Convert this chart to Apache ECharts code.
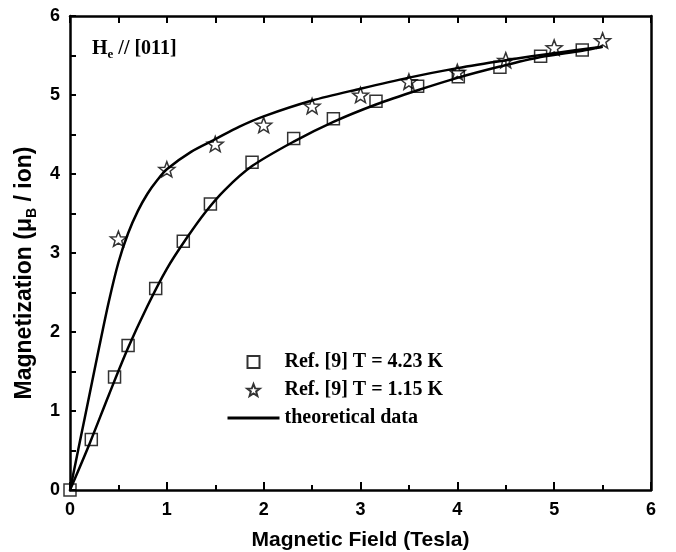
<!DOCTYPE html>
<html>
<head>
<meta charset="utf-8">
<script src="https://cdn.jsdelivr.net/npm/echarts@6/dist/echarts.min.js"></script>
<style>html,body{margin:0;padding:0;background:#fff;}#c{width:676px;height:552px;}</style>
</head>
<body>
<div id="c"></div>
<script>
// ---- data ----
var squares423 = [[0,0],[0.22,0.64],[0.46,1.43],[0.60,1.83],[0.885,2.55],[1.17,3.15],[1.45,3.62],[1.88,4.15],[2.31,4.45],[2.72,4.70],[3.16,4.92],[3.59,5.11],[4.01,5.23],[4.44,5.35],[4.86,5.49],[5.29,5.57]];
var stars115 = [[0.5,3.18],[1.0,4.06],[1.5,4.38],[2.0,4.62],[2.5,4.86],[3.0,5.0],[3.5,5.17],[4.0,5.29],[4.5,5.44],[5.0,5.60],[5.5,5.69]];
var theoryHigh = [[0,0],[0.1,0.6],[0.2,1.2],[0.3,1.8],[0.4,2.38],[0.5,2.88],[0.6,3.25],[0.7,3.53],[0.8,3.75],[0.9,3.92],[1.0,4.06],[1.25,4.28],[1.5,4.44],[1.75,4.6],[2.0,4.73],[2.5,4.93],[3.0,5.08],[3.5,5.22],[4.0,5.34],[4.5,5.44],[5.0,5.53],[5.5,5.61]];
var theoryLow = [[0,0],[0.2,0.58],[0.4,1.2],[0.6,1.8],[0.8,2.33],[1.0,2.8],[1.2,3.18],[1.4,3.52],[1.6,3.80],[1.88,4.10],[2.31,4.41],[2.72,4.66],[3.16,4.88],[3.59,5.06],[4.01,5.22],[4.44,5.36],[4.86,5.48],[5.29,5.56],[5.5,5.61]];
var seriesNames = ['Ref. [9] T = 4.23 K', 'Ref. [9] T = 1.15 K', 'theoretical data'];
var xTitle = 'Magnetic Field (Tesla)';

var starPath = 'path://M50 0 L62.35 33 L97.55 34.55 L69.97 56.49 L79.39 90.45 L50 71 L20.61 90.45 L30.03 56.49 L2.45 34.55 L37.65 33 Z';
var squarePath = 'path://M0 0 H10 V10 H0 Z';
var hollow = {color: 'rgba(255,255,255,0)', borderColor: '#000', borderWidth: 1.5};

var chart = echarts.init(document.getElementById('c'), null, {renderer: 'canvas'});
var axisFont = {fontFamily: 'Liberation Sans', fontWeight: 'bold', fontSize: 18, color: '#000'};
chart.setOption({
  animation: false,
  backgroundColor: '#fff',
  grid: {left: 70, right: 25, top: 16, bottom: 62, containLabel: false, outerBoundsMode: 'none'},
  legend: {
    orient: 'vertical', left: 226, top: 352, padding: 0, itemWidth: 52, itemHeight: 12, itemGap: 8,
    textStyle: {fontFamily: 'Liberation Serif', fontWeight: 'bold', fontSize: 20, color: '#000'},
    data: [
      {name: seriesNames[0], icon: squarePath},
      {name: seriesNames[1], icon: starPath},
      {name: seriesNames[2], itemStyle: {color: 'rgba(0,0,0,0)', borderWidth: 0}, lineStyle: {color: '#000', width: 3}}
    ]
  },
  xAxis: [{
    type: 'value', min: 0, max: 6, interval: 1, position: 'bottom',
    name: xTitle, nameLocation: 'middle', nameGap: 40,
    nameTextStyle: {fontFamily: 'Liberation Sans', fontWeight: 'bold', fontSize: 21, color: '#000'},
    axisLine: {onZero: false, lineStyle: {color: '#000', width: 2.5}},
    axisTick: {inside: true, length: 8, lineStyle: {color: '#000', width: 2}},
    minorTick: {show: true, splitNumber: 2, length: 5, lineStyle: {color: '#000', width: 2}},
    axisLabel: Object.assign({margin: 11}, axisFont),
    splitLine: {show: false}
  }, {
    type: 'value', min: 0, max: 6, interval: 0.5, position: 'top',
    axisLine: {onZero: false, lineStyle: {color: '#000', width: 2.5}},
    axisTick: {inside: true, length: 7, lineStyle: {color: '#000', width: 2}},
    axisLabel: {show: false}, splitLine: {show: false}
  }],
  yAxis: [{
    type: 'value', min: 0, max: 6, interval: 1, position: 'left',
    name: '{a|Magnetization (μ}{s|B}{a| / ion)}', nameLocation: 'middle', nameGap: 28,
    nameTextStyle: {
      padding: [0, 40, 0, 0],
      rich: {
        a: {fontFamily: 'Liberation Sans', fontWeight: 'bold', fontSize: 23, color: '#000', lineHeight: 28},
        s: {fontFamily: 'Liberation Sans', fontWeight: 'bold', fontSize: 14, color: '#000', lineHeight: 13, verticalAlign: 'bottom'}
      }
    },
    axisLine: {onZero: false, lineStyle: {color: '#000', width: 2.5}},
    axisTick: {inside: true, length: 6, lineStyle: {color: '#000', width: 2}},
    minorTick: {show: true, splitNumber: 2, length: 6, lineStyle: {color: '#000', width: 2}},
    axisLabel: Object.assign({margin: 10}, axisFont),
    splitLine: {show: false}
  }, {
    type: 'value', min: 0, max: 6, interval: 1, position: 'right',
    axisLine: {show: true, onZero: false, lineStyle: {color: '#000', width: 2.5}},
    axisTick: {show: false}, axisLabel: {show: false}, splitLine: {show: false}
  }],
  graphic: [{
    type: 'text', left: 92, top: 39,
    style: {
      text: '{a|H}{s|e}{a| // [011]}',
      rich: {
        a: {fontFamily: 'Liberation Serif', fontWeight: 'bold', fontSize: 20, fill: '#000', lineHeight: 24},
        s: {fontFamily: 'Liberation Serif', fontWeight: 'bold', fontSize: 13, fill: '#000', lineHeight: 12, verticalAlign: 'bottom'}
      }
    }
  }],
  series: [
    {name: seriesNames[2], type: 'line', data: theoryHigh, smooth: 0.3, showSymbol: false, symbol: 'none',
     lineStyle: {color: '#000', width: 2.5}, itemStyle: {color: '#000'}, z: 2},
    {name: seriesNames[2], type: 'line', data: theoryLow, smooth: 0.3, showSymbol: false, symbol: 'none',
     lineStyle: {color: '#000', width: 2.5}, itemStyle: {color: '#000'}, z: 2},
    {name: seriesNames[0], type: 'scatter', data: squares423, symbol: squarePath, symbolSize: 12, symbolKeepAspect: true,
     itemStyle: hollow, z: 3},
    {name: seriesNames[1], type: 'scatter', data: stars115, symbol: starPath, symbolSize: 16, symbolKeepAspect: true,
     itemStyle: hollow, z: 3}
  ]
});
</script>
</body>
</html>
